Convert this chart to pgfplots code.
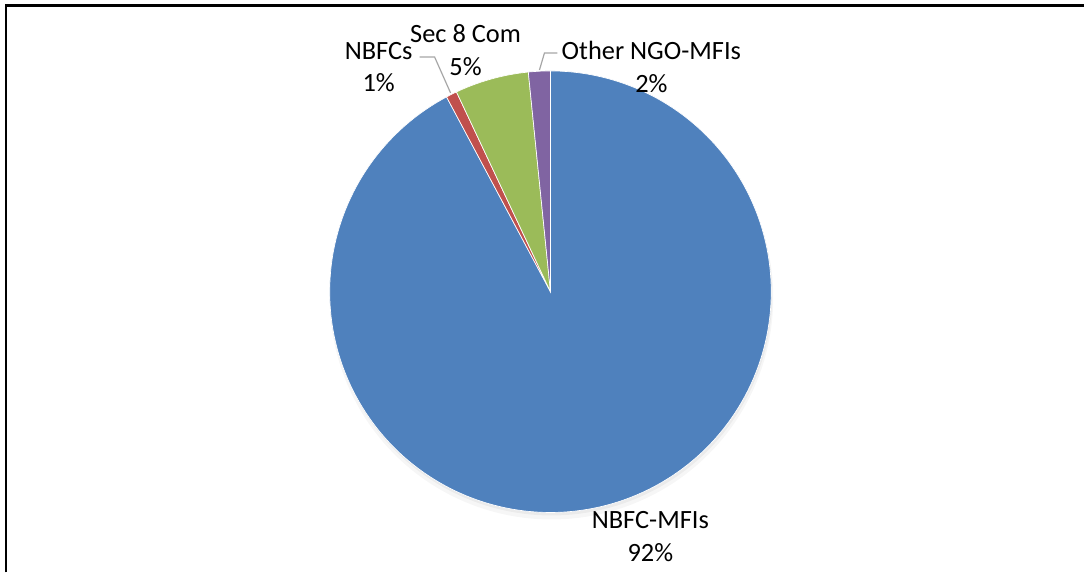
\documentclass[border=0pt]{standalone}
\usepackage{pgfplots}
\pgfplotsset{compat=1.18}
\usepackage{fontspec}
\setmainfont{Carlito}
\definecolor{cBlue}{HTML}{4F81BD}
\definecolor{cRed}{HTML}{C0504D}
\definecolor{cGreen}{HTML}{9BBB59}
\definecolor{cPurple}{HTML}{8064A2}
\definecolor{cLead}{HTML}{A6A6A6}
% shares (percent) in clockwise order from 12 o'clock
\def\vA{92.2}% NBFC-MFIs
\def\vB{0.8}%  NBFCs
\def\vC{5.4}%  Sec 8 Com
\def\vD{1.6}%  Other NGO-MFIs
\def\cx{551}\def\cy{281}\def\rr{221}
\pgfmathsetmacro\aA{0}
\pgfmathsetmacro\aB{\aA+3.6*\vA}
\pgfmathsetmacro\aC{\aB+3.6*\vB}
\pgfmathsetmacro\aD{\aC+3.6*\vC}
\pgfmathsetmacro\aE{\aD+3.6*\vD}
\begin{document}
\begin{tikzpicture}
\begin{axis}[
  width=813.75pt, height=429.75pt, scale only axis,
  xmin=0, xmax=1085, ymin=0, ymax=573,
  hide axis, clip=false,
  every axis plot/.append style={no marks},
]
\path (axis cs:0,0) rectangle (axis cs:1085,573);
% soft shadow (below the pie)
\addplot[draw=none, fill=black, fill opacity=0.035, domain=0:360, samples=180, variable=\t]
  ({\cx+1+(\rr+1)*sin(\t)},{\cy-6+(\rr+1)*cos(\t)}) -- cycle;
\addplot[draw=none, fill=black, fill opacity=0.045, domain=0:360, samples=180, variable=\t]
  ({\cx+1+(\rr)*sin(\t)},{\cy-3+(\rr)*cos(\t)}) -- cycle;
% slices
\addplot[fill=cBlue, draw=white, line width=0.5pt, domain=\aA:\aB, samples=200, variable=\t]
  ({\cx+\rr*sin(\t)},{\cy+\rr*cos(\t)}) -- (axis cs:\cx,\cy) -- cycle;
\addplot[fill=cRed, draw=white, line width=0.5pt, domain=\aB:\aC, samples=10, variable=\t]
  ({\cx+\rr*sin(\t)},{\cy+\rr*cos(\t)}) -- (axis cs:\cx,\cy) -- cycle;
\addplot[fill=cGreen, draw=white, line width=0.5pt, domain=\aC:\aD, samples=30, variable=\t]
  ({\cx+\rr*sin(\t)},{\cy+\rr*cos(\t)}) -- (axis cs:\cx,\cy) -- cycle;
\addplot[fill=cPurple, draw=white, line width=0.5pt, domain=\aD:\aE, samples=10, variable=\t]
  ({\cx+\rr*sin(\t)},{\cy+\rr*cos(\t)}) -- (axis cs:\cx,\cy) -- cycle;
% leader lines
\addplot[cLead, line width=0.9pt] coordinates {(420,516) (435,516) (451,480)};
\addplot[cLead, line width=0.9pt] coordinates {(540,503) (545,520) (558,520)};
% frame (top and left)
\addplot[black, line width=1.6pt] coordinates {(6,0) (6,567.5) (1085,567.5)};
% labels
\begin{scope}[every node/.style={align=center, font=\fontsize{19.8pt}{24.5pt}\selectfont, inner sep=0pt}]
\node at (axis cs:379,506) {NBFCs\\1\%};
\node at (axis cs:466,523) {Sec 8 Com\\5\%};
\node at (axis cs:652,506) {Other NGO-MFIs\\2\%};
\node at (axis cs:651,36) {NBFC-MFIs\\92\%};
\end{scope}
\end{axis}
\end{tikzpicture}
\end{document}
